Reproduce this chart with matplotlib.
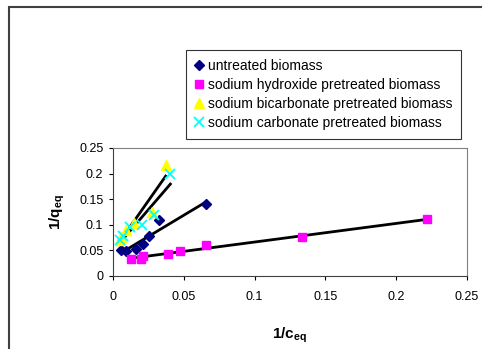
import numpy as np
import matplotlib.pyplot as plt
from matplotlib.patches import Rectangle

plt.rcParams['font.family'] = ['Liberation Sans', 'DejaVu Sans']
plt.rcParams['mathtext.fontset'] = 'custom'
plt.rcParams['mathtext.rm'] = 'Liberation Sans'
plt.rcParams['mathtext.bf'] = 'Liberation Sans:bold'

# data (1/c_eq, 1/q_eq)
untreated_x = [0.0060, 0.0092, 0.016, 0.021, 0.0257, 0.0327, 0.066]
untreated_y = [0.051, 0.049, 0.053, 0.0625, 0.078, 0.109, 0.1406]

hydroxide_x = [0.0127, 0.0195, 0.0214, 0.0386, 0.0473, 0.0655, 0.1337, 0.222]
hydroxide_y = [0.033, 0.033, 0.039, 0.043, 0.049, 0.0605, 0.0755, 0.1107]

bicarbonate_x = [0.0050, 0.0057, 0.009, 0.015, 0.0273, 0.0372]
bicarbonate_y = [0.070, 0.077, 0.090, 0.103, 0.1256, 0.2168]

carbonate_x = [0.0050, 0.0073, 0.012, 0.0203, 0.029, 0.0405]
carbonate_y = [0.0703, 0.078, 0.096, 0.0996, 0.119, 0.2]

labels = ['untreated biomass', 'sodium hydroxide pretreated biomass',
          'sodium bicarbonate pretreated biomass', 'sodium carbonate pretreated biomass']

fig = plt.figure(figsize=(4.82, 3.49), dpi=100)
ax = fig.add_axes([113 / 482, 1 - 276 / 349, 354 / 482, 128 / 349])

series = [
    (untreated_x, untreated_y, 'D', '#000080', 5, None),
    (hydroxide_x, hydroxide_y, 's', '#FF00FF', 5.5, None),
    (bicarbonate_x, bicarbonate_y, '^', '#FFFF00', 6.5, None),
    (carbonate_x, carbonate_y, 'x', '#00FFFF', 6.5, 1.3),
]
for (xs, ys, m, c, s, mew), lab in zip(series, labels):
    kw = dict(marker=m, color=c, markersize=s, linestyle='none', label=lab)
    if mew:
        kw['markeredgewidth'] = mew
    else:
        kw['markeredgecolor'] = c
    ax.plot(xs, ys, **kw)

# linear trend lines
for xs, ys, *_ in series:
    k, b = np.polyfit(xs, ys, 1)
    xx = np.array([min(xs), max(xs)])
    ax.plot(xx, k * xx + b, color='black', linewidth=2, zorder=1)

ticks = [0, 0.05, 0.1, 0.15, 0.2, 0.25]
tick_labels = ['0', '0.05', '0.1', '0.15', '0.2', '0.25']
ax.set_xlim(0, 0.25)
ax.set_ylim(0, 0.25)
ax.set_xticks(ticks)
ax.set_xticklabels(tick_labels)
ax.set_yticks(ticks)
ax.set_yticklabels(tick_labels)
ax.tick_params(direction='out', length=3, width=0.8, labelsize=9, pad=4)
ax.xaxis.set_tick_params(pad=8)
for sp in ['top', 'right']:
    ax.spines[sp].set_color('#808080')
for sp in ['left', 'bottom']:
    ax.spines[sp].set_color('#404040')

ax.set_xlabel(r'$\mathbf{1/c_{eq}}$', fontsize=11, labelpad=16)
ax.set_ylabel(r'$\mathbf{1/q_{eq}}$', fontsize=11, labelpad=9)

leg = fig.legend(loc='upper left', bbox_to_anchor=(186 / 482, 1 - 50 / 349),
                 fontsize=10, frameon=True, fancybox=False, handlelength=0.6,
                 handletextpad=0.3, borderpad=0.65, labelspacing=0.36,
                 borderaxespad=0)
leg.get_frame().set_edgecolor('black')
leg.get_frame().set_linewidth(0.8)

# outer chart frame
fig.patches.append(Rectangle((9 / 482, -0.1), 1.2, 1 - 7 / 349 + 0.1,
                             transform=fig.transFigure, fill=False,
                             edgecolor='#404040', linewidth=1.5))

fig.savefig('out.png', dpi=100)
